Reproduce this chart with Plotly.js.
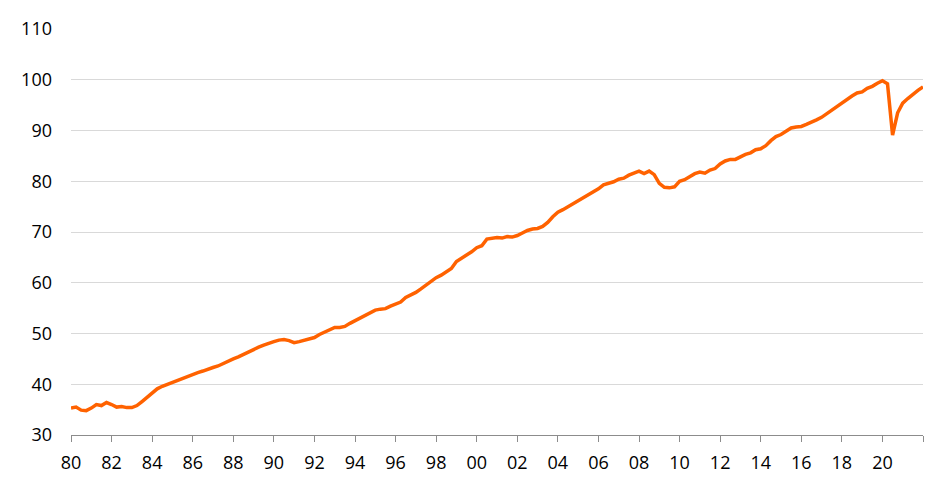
<!DOCTYPE html>
<html>
<head>
<meta charset="utf-8">
<script src="https://cdn.plot.ly/plotly-3.0.1.min.js"></script>
<style>
  html, body { margin: 0; padding: 0; background: #fff; }
  #chart { width: 952px; height: 491px; }
</style>
</head>
<body>
<div id="chart"></div>
<script>
// quarterly index, first point sits on the '80 tick
var startYear = 1980;
var idx80s = [35.3, 35.5, 34.9, 34.8, 35.3, 36.0, 35.8, 36.4, 36.0, 35.5,
              35.6, 35.4, 35.4, 35.8, 36.6, 37.5, 38.3, 39.1, 39.6, 40.0,
              40.3, 40.7, 41.1, 41.6, 41.9, 42.3, 42.6, 43.0, 43.3, 43.6,
              44.1, 44.6, 45.0, 45.4, 45.9, 46.3, 46.8, 47.3, 47.7];
var idx90s = [48.1, 48.4, 48.7, 48.8, 48.6, 48.2, 48.4, 48.7, 48.9, 49.2,
              49.8, 50.3, 50.8, 51.2, 51.2, 51.4, 52.0, 52.5, 53.1, 53.6,
              54.0, 54.6, 54.8, 54.9, 55.4, 55.8, 56.2, 57.1, 57.6, 58.1,
              58.8, 59.6, 60.4, 61.0, 61.5, 62.1, 62.8, 64.2, 64.8, 65.3];
var idx00s = [66.1, 66.9, 67.3, 68.6, 68.8, 68.9, 68.8, 69.1, 69.0, 69.3,
              69.8, 70.3, 70.6, 70.7, 71.1, 71.9, 73.0, 73.9, 74.4, 75.0,
              75.5, 76.1, 76.8, 77.3, 77.8, 78.5, 79.3, 79.6, 79.9, 80.4,
              80.6, 81.2, 81.6, 82.0, 81.5, 82.0, 81.3, 79.6, 78.8, 78.7];
var idx10s = [78.9, 80.0, 80.3, 81.0, 81.5, 81.8, 81.6, 82.2, 82.5, 83.4,
              84.0, 84.3, 84.3, 84.8, 85.3, 85.6, 86.2, 86.4, 87.0, 88.0,
              88.8, 89.2, 89.8, 90.5, 90.7, 90.8, 91.2, 91.6, 92.1, 92.6,
              93.3, 94.1, 94.9, 95.6, 96.2, 96.8, 97.4, 97.6, 98.3, 98.7];
var idx20s = [99.3, 99.8, 99.2, 89.1, 93.5, 95.4, 96.3, 97.2, 97.9, 98.6];

var tickYears  = [1980, 1982, 1984, 1986, 1988, 1990, 1992, 1994, 1996, 1998, 2000,
                  2002, 2004, 2006, 2008, 2010, 2012, 2014, 2016, 2018, 2020, 2022];
var tickLabels = ['80', '82', '84', '86', '88', '90', '92', '94', '96', '98', '00',
                  '02', '04', '06', '08', '10', '12', '14', '16', '18', '20', ''];

var values = idx80s.concat(idx90s, idx00s, idx10s, idx20s);
var quarters = values.map(function (v, i) { return startYear + i / 4; });

var trace = {
  x: quarters,
  y: values,
  mode: 'lines',
  line: { color: '#ff6200', width: 3.5 },
  hoverinfo: 'none'
};

var layout = {
  width: 952,
  height: 491,
  margin: { l: 71, r: 29, t: 29, b: 56 },
  paper_bgcolor: '#ffffff',
  plot_bgcolor: '#ffffff',
  showlegend: false,
  font: { family: 'Open Sans, sans-serif', size: 18, color: '#000000' },
  xaxis: {
    range: [1980, 2022],
    tickvals: tickYears,
    ticktext: tickLabels,
    showgrid: false,
    zeroline: false,
    showline: true,
    linecolor: '#8c8c8c',
    linewidth: 1,
    ticks: 'outside',
    ticklen: 6,
    tickcolor: '#8c8c8c',
    tickwidth: 1,
    ticklabelstandoff: 5,
    fixedrange: true
  },
  yaxis: {
    range: [30, 110],
    dtick: 10,
    tick0: 30,
    showgrid: true,
    gridcolor: '#d9d9d9',
    gridwidth: 1,
    zeroline: false,
    showline: false,
    ticks: '',
    ticklabelstandoff: 18,
    fixedrange: true
  }
};

Plotly.newPlot('chart', [trace], layout, { displayModeBar: false, staticPlot: true });
</script>
</body>
</html>
